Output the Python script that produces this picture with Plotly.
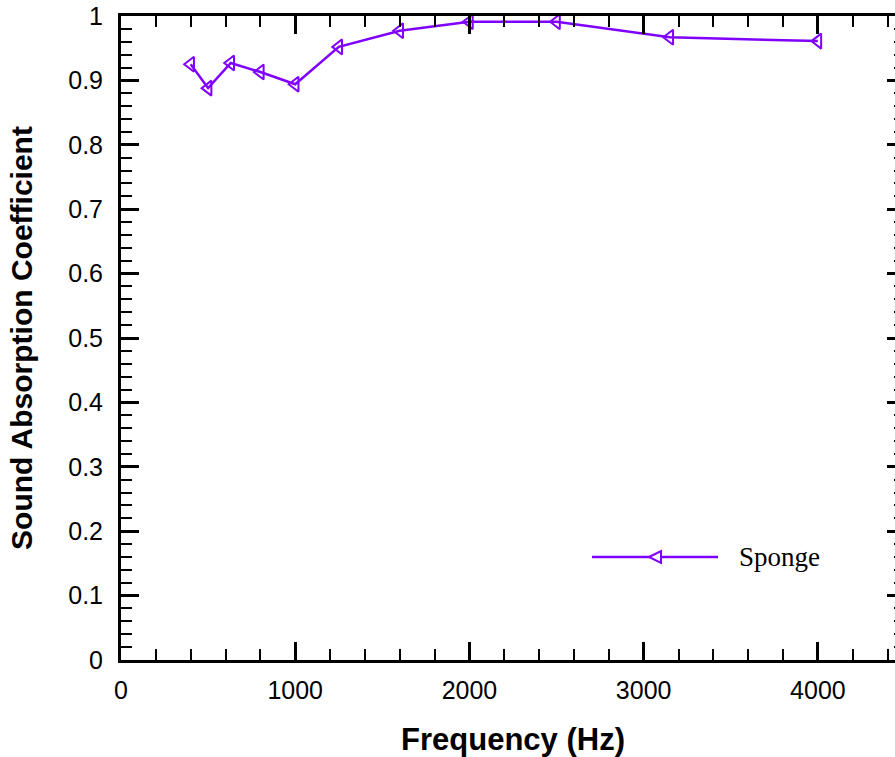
import plotly.graph_objects as go

freq = [400, 500, 630, 800, 1000, 1250, 1600, 2000, 2500, 3150, 4000]
sponge = [0.925, 0.888, 0.927, 0.913, 0.894, 0.952, 0.977, 0.991, 0.991, 0.967, 0.961]
series_name = "Sponge"
x_title = "Frequency (Hz)"
y_title = "Sound Absorption Coefficient"

color = "#8000FF"
W, H = 906, 757
L, R, T, B = 121, 1, 16, 97

fig = go.Figure()
fig.add_trace(go.Scatter(
    x=freq, y=sponge, mode="lines+markers", name=series_name,
    line=dict(color=color, width=2.5),
    marker=dict(symbol="triangle-left-open", size=13, color=color,
                line=dict(color=color, width=2)),
    showlegend=False, cliponaxis=False,
))

axis_common = dict(
    showline=True, linecolor="black", linewidth=3, mirror="allticks",
    ticks="inside", ticklen=18, tickwidth=3, tickcolor="black",
    showgrid=False, zeroline=False,
    tickfont=dict(family="Liberation Sans, Arial", size=25, color="black"),
)

fig.update_xaxes(
    range=[0, 4500], tick0=0, dtick=1000,
    minor=dict(ticks="inside", ticklen=11, tickwidth=1.5, tickcolor="black", dtick=200),
    ticklabelstandoff=6,
    title=dict(text=x_title, standoff=27,
               font=dict(family="Liberation Sans, Arial", size=31, color="black", weight="bold")),
    **axis_common,
)
fig.update_yaxes(
    range=[0, 1], tick0=0, dtick=0.1, tickformat="~g",
    minor=dict(ticks="inside", ticklen=11, tickwidth=1.5, tickcolor="black", dtick=0.02),
    ticklabelstandoff=10,
    title=dict(text=y_title, standoff=27,
               font=dict(family="Liberation Sans, Arial", size=30, color="black", weight="bold")),
    **axis_common,
)

# legend drawn as decoration in paper coordinates
pw, ph = W - L - R, H - T - B
def px_x(p): return (p - L) / pw
def px_y(p): return (H - B - p) / ph
ly = px_y(557)
fig.add_shape(type="line", xref="paper", yref="paper", x0=px_x(592), x1=px_x(718), y0=ly, y1=ly,
              line=dict(color=color, width=2.5))
fig.add_shape(type="path", xref="paper", yref="paper", xsizemode="pixel", ysizemode="pixel",
              xanchor=px_x(655), yanchor=ly, path="M-6,0 L6,6 L6,-6 Z",
              line=dict(color=color, width=2), fillcolor="white")
fig.add_annotation(xref="paper", yref="paper", x=px_x(737), y=ly, xanchor="left", yanchor="middle",
                   text=series_name, showarrow=False,
                   font=dict(family="Liberation Serif, Times New Roman", size=27, color="black"))

fig.update_layout(
    width=W, height=H, margin=dict(l=L, r=R, t=T, b=B, autoexpand=False),
    paper_bgcolor="white", plot_bgcolor="white", showlegend=False,
)

fig.write_html("out.html", post_script="document.body.style.overflow='hidden';document.documentElement.style.overflow='hidden';document.body.style.margin='0';")
